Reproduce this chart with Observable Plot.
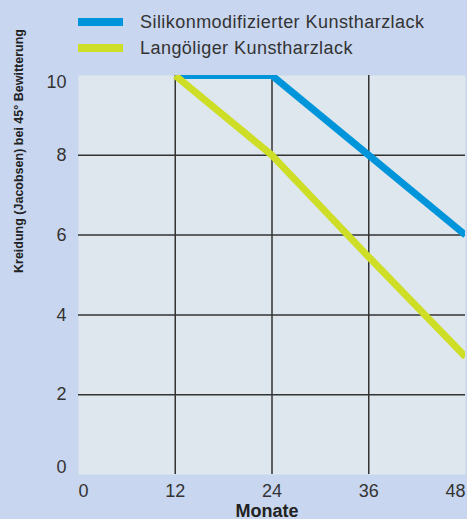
<!DOCTYPE html>
<html>
<head>
<meta charset="utf-8">
<script src="https://cdn.jsdelivr.net/npm/d3@7"></script>
<script src="https://cdn.jsdelivr.net/npm/@observablehq/plot@0.6"></script>
<style>
  html, body { margin: 0; padding: 0; background: #c8d6ef; }
  #wrap { width: 467px; height: 519px; position: relative; overflow: hidden; font-family: "Liberation Sans", Arial, sans-serif; }
  #legend { position: relative; height: 65px; }
  .item { position: absolute; left: 78px; display: flex; align-items: center; }
  .sw { width: 45px; height: 8px; }
  .lbl { margin-left: 17px; font-size: 18px; letter-spacing: 0.45px; color: #333; white-space: nowrap; }
</style>
</head>
<body>
<div id="wrap">
  <div id="legend"></div>
  <div id="chart"></div>
</div>
<script>
const months = [12, 24, 36, 48];
const silikon = [10, 10, 8, 6];
const langoel = [10, 8, 5.45, 2.95];
const seriesNames = ["Silikonmodifizierter Kunstharzlack", "Langöliger Kunstharzlack"];
const seriesColors = ["#0095da", "#cedd25"];
const xTicks = [0, 12, 24, 36, 48];
const yTicks = [0, 2, 4, 6, 8, 10];
const xLabel = "Monate";
const yLabel = "Kreidung (Jacobsen) bei 45° Bewitterung";

const data = [
  ...months.map((m, i) => ({ month: m, value: silikon[i], series: seriesNames[0] })),
  ...months.map((m, i) => ({ month: m, value: langoel[i], series: seriesNames[1] }))
];

// legend
const legend = document.getElementById("legend");
seriesNames.forEach((name, i) => {
  const it = document.createElement("div");
  it.className = "item";
  it.style.top = (i === 0 ? 10 : 36) + "px";
  it.style.height = "24px";
  it.innerHTML = `<div class="sw" style="background:${seriesColors[i]}"></div><div class="lbl">${name}</div>`;
  legend.appendChild(it);
});

const tickFont = { fontSize: 18, fill: "#333" };
const inner = yTicks.slice(1, -1);

const chart = Plot.plot({
  width: 467,
  height: 454,
  marginTop: 10,
  marginBottom: 45,
  marginLeft: 78,
  marginRight: 2,
  style: { background: "transparent", fontFamily: "'Liberation Sans', Arial, sans-serif", overflow: "visible" },
  x: { domain: [0, 48] },
  y: { domain: [0, 10] },
  color: { domain: seriesNames, range: seriesColors },
  marks: [
    Plot.frame({ fill: "#dde7ed", stroke: null }),
    Plot.gridX(xTicks.slice(1, -1), { stroke: "#333", strokeOpacity: 1, strokeWidth: 1.5 }),
    Plot.gridY(inner, { stroke: "#333", strokeOpacity: 1, strokeWidth: 1.5 }),
    Plot.line(data, { x: "month", y: "value", z: "series", stroke: "series", strokeWidth: 7, clip: true, strokeLinejoin: "miter", strokeLinecap: "butt" }),
    Plot.axisY(inner, { tickSize: 0, tickPadding: 12, label: null, ...tickFont }),
    Plot.axisY([yTicks[0]], { tickSize: 0, tickPadding: 12, label: null, dy: -7, ...tickFont }),
    Plot.axisY([yTicks[yTicks.length - 1]], { tickSize: 0, tickPadding: 12, label: null, dy: 7, ...tickFont }),
    Plot.axisX(xTicks.slice(1, -1), { tickSize: 0, tickPadding: 10, label: null, ...tickFont }),
    Plot.axisX([xTicks[0]], { tickSize: 0, tickPadding: 10, label: null, textAnchor: "start", ...tickFont }),
    Plot.axisX([xTicks[xTicks.length - 1]], { tickSize: 0, tickPadding: 10, label: null, textAnchor: "end", ...tickFont }),
    Plot.text([xLabel], { frameAnchor: "bottom", dy: 42, dx: -5, fontWeight: "bold", fontSize: 18, fill: "#222", lineAnchor: "bottom" }),
    Plot.text([yLabel], { frameAnchor: "left", dx: -60, dy: -2, rotate: -90, fontWeight: "bold", fontSize: 12.5, fill: "#222" })
  ]
});
document.getElementById("chart").appendChild(chart);
</script>
</body>
</html>
